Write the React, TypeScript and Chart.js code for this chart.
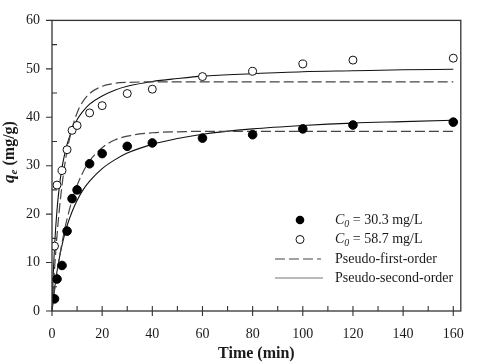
import React, { useEffect, useRef } from "react";
import { Chart, registerables } from "chart.js";

Chart.register(...registerables);

// Observed data (time in min, q in mg/g)
const obsTime = [1, 2, 4, 6, 8, 10, 15, 20, 30, 40, 60, 80, 100, 120, 160];
const qObs303 = [2.5, 6.6, 9.4, 16.5, 23.2, 25.0, 30.4, 32.5, 34.0, 34.7, 35.7, 36.4, 37.6, 38.4, 39.0];
const qObs587 = [13.4, 26.0, 29.0, 33.3, 37.3, 38.3, 40.9, 42.4, 44.9, 45.8, 48.4, 49.5, 51.0, 51.8, 52.2];

// Fitted curves
const fitTime = [0, 0.5, 1, 2, 3, 4, 5, 6, 8, 10, 12, 15, 20, 25, 30, 40, 50, 60, 80, 100, 120, 140, 160];
const pfo303 = [0, 2.2, 4.2, 7.9, 11.2, 14.1, 16.7, 19.0, 22.9, 25.9, 28.3, 31.0, 33.7, 35.3, 36.1, 36.8, 37.0, 37.1, 37.1, 37.1, 37.1, 37.1, 37.1];
const pso303 = [0, 2.4, 4.5, 8.2, 11.1, 13.6, 15.7, 17.6, 20.5, 22.8, 24.7, 26.8, 29.4, 31.2, 32.6, 34.4, 35.6, 36.5, 37.6, 38.3, 38.8, 39.1, 39.4];
const pfo587 = [0, 4.5, 8.6, 15.6, 21.3, 26.0, 29.9, 33.1, 37.7, 40.9, 43.0, 44.9, 46.4, 47.0, 47.2, 47.3, 47.3, 47.3, 47.3, 47.3, 47.3, 47.3, 47.3];
const pso587 = [0, 7.6, 13.2, 20.9, 26.0, 29.6, 32.3, 34.4, 37.4, 39.5, 41.0, 42.7, 44.4, 45.6, 46.4, 47.4, 48.0, 48.5, 49.0, 49.4, 49.6, 49.8, 49.9];

const xTicks = [0, 20, 40, 60, 80, 100, 120, 140, 160];
const yTicks = [0, 10, 20, 30, 40, 50, 60];
const xMinor = [10, 30, 50, 70, 90, 110, 130, 150];
const yMinor = [5, 15, 25, 35, 45, 55];

const SERIF = "'Liberation Serif', 'Times New Roman', serif";
const INK = "#1a1a1a";

const pts = (xs: number[], ys: number[]) => xs.map((x, i) => ({ x, y: ys[i] }));

const framePlugin = {
  id: "frame",
  afterDraw(chart: any) {
    const { ctx, chartArea: a, scales } = chart;
    const xs = scales.x;
    const ys = scales.y;
    ctx.save();
    ctx.strokeStyle = "#333";
    ctx.lineWidth = 1.3;
    ctx.strokeRect(a.left, a.top, a.right - a.left, a.bottom - a.top);
    ctx.lineWidth = 1.1;
    ctx.beginPath();
    xTicks.forEach((v) => {
      const p = xs.getPixelForValue(v);
      ctx.moveTo(p, a.bottom - 5);
      ctx.lineTo(p, a.bottom + 5);
    });
    xMinor.forEach((v) => {
      const p = xs.getPixelForValue(v);
      ctx.moveTo(p, a.bottom - 5);
      ctx.lineTo(p, a.bottom);
    });
    yTicks.forEach((v) => {
      const p = ys.getPixelForValue(v);
      ctx.moveTo(a.left - 6, p);
      ctx.lineTo(a.left, p);
    });
    yMinor.forEach((v) => {
      const p = ys.getPixelForValue(v);
      ctx.moveTo(a.left, p);
      ctx.lineTo(a.left + 5, p);
    });
    ctx.stroke();

    // x axis title
    ctx.fillStyle = INK;
    ctx.textAlign = "center";
    ctx.textBaseline = "middle";
    ctx.font = `bold 16px ${SERIF}`;
    ctx.fillText("Time (min)", (a.left + a.right) / 2, 354);

    // y axis title (rotated)
    ctx.save();
    ctx.translate(14, 152);
    ctx.rotate(-Math.PI / 2);
    ctx.textAlign = "left";
    ctx.textBaseline = "alphabetic";
    const f1 = `italic bold 17px ${SERIF}`;
    const f2 = `italic bold 11px ${SERIF}`;
    const f3 = `bold 16px ${SERIF}`;
    ctx.font = f1;
    const w1 = ctx.measureText("q").width;
    ctx.font = f2;
    const w2 = ctx.measureText("e").width;
    ctx.font = f3;
    const w3 = ctx.measureText(" (mg/g)").width;
    let x = -(w1 + w2 + w3) / 2;
    ctx.font = f1;
    ctx.fillText("q", x, 0);
    x += w1;
    ctx.font = f2;
    ctx.fillText("e", x, 3);
    x += w2;
    ctx.font = f3;
    ctx.fillText(" (mg/g)", x, 0);
    ctx.restore();

    // legend
    const ds = chart.data.datasets;
    const tx = 335;
    const rows = [220, 239.5, 259, 278];
    ctx.textBaseline = "middle";
    ctx.textAlign = "left";
    const drawC0 = (y: number, rest: string) => {
      let xx = tx;
      ctx.font = `italic 14px ${SERIF}`;
      ctx.fillText("C", xx, y);
      xx += ctx.measureText("C").width;
      ctx.font = `italic 10px ${SERIF}`;
      ctx.fillText("0", xx, y + 4);
      xx += ctx.measureText("0").width;
      ctx.font = `14px ${SERIF}`;
      ctx.fillText(rest, xx, y);
    };
    // markers
    ctx.beginPath();
    ctx.fillStyle = ds[0].pointBackgroundColor;
    ctx.arc(300, rows[0], 4.3, 0, Math.PI * 2);
    ctx.fill();
    ctx.beginPath();
    ctx.fillStyle = "#fff";
    ctx.strokeStyle = "#111";
    ctx.lineWidth = 1;
    ctx.arc(300, rows[1], 4, 0, Math.PI * 2);
    ctx.fill();
    ctx.stroke();
    // lines
    ctx.beginPath();
    ctx.strokeStyle = ds[2].borderColor;
    ctx.lineWidth = ds[2].borderWidth;
    ctx.setLineDash(ds[2].borderDash);
    ctx.moveTo(275, rows[2]);
    ctx.lineTo(321, rows[2]);
    ctx.stroke();
    ctx.setLineDash([]);
    ctx.beginPath();
    ctx.strokeStyle = "#777";
    ctx.lineWidth = 1.2;
    ctx.moveTo(275, rows[3]);
    ctx.lineTo(323, rows[3]);
    ctx.stroke();
    ctx.fillStyle = INK;
    drawC0(rows[0], " = 30.3 mg/L");
    drawC0(rows[1], " = 58.7 mg/L");
    ctx.font = `14px ${SERIF}`;
    ctx.fillText("Pseudo-first-order", tx, rows[2]);
    ctx.fillText("Pseudo-second-order", tx, rows[3]);
    ctx.restore();
  },
};

export default function App() {
  const ref = useRef<HTMLCanvasElement | null>(null);
  useEffect(() => {
    if (!ref.current) return;
    const lineBase = {
      pointRadius: 0,
      pointHoverRadius: 0,
      fill: false,
      cubicInterpolationMode: "monotone" as const,
      order: 2,
    };
    const chart = new Chart(ref.current, {
      type: "line",
      data: {
        datasets: [
          {
            label: "C0 = 30.3 mg/L",
            data: pts(obsTime, qObs303),
            showLine: false,
            pointRadius: 4.3,
            pointBackgroundColor: "#000",
            pointBorderColor: "#000",
            pointBorderWidth: 1,
            order: 0,
          },
          {
            label: "C0 = 58.7 mg/L",
            data: pts(obsTime, qObs587),
            showLine: false,
            pointRadius: 4,
            pointBackgroundColor: "#fff",
            pointBorderColor: "#111",
            pointBorderWidth: 1,
            order: 0,
          },
          {
            label: "Pseudo-first-order",
            data: pts(fitTime, pfo303),
            borderColor: "#444",
            borderWidth: 1.2,
            borderDash: [10, 4],
            ...lineBase,
          },
          {
            label: "Pseudo-first-order 58.7",
            data: pts(fitTime, pfo587),
            borderColor: "#444",
            borderWidth: 1.2,
            borderDash: [10, 4],
            ...lineBase,
          },
          {
            label: "Pseudo-second-order",
            data: pts(fitTime, pso303),
            borderColor: "#111",
            borderWidth: 1.1,
            ...lineBase,
          },
          {
            label: "Pseudo-second-order 58.7",
            data: pts(fitTime, pso587),
            borderColor: "#111",
            borderWidth: 1.1,
            ...lineBase,
          },
        ],
      },
      options: {
        responsive: false,
        animation: false,
        devicePixelRatio: 1,
        layout: { padding: { top: 12, right: 12, left: 0, bottom: 0 } },
        plugins: { legend: { display: false }, tooltip: { enabled: false } },
        scales: {
          x: {
            type: "linear",
            min: 0,
            max: 163,
            grid: { display: false, drawTicks: false },
            border: { display: false },
            afterFit: (s: any) => {
              s.height = 53;
            },
            afterBuildTicks: (s: any) => {
              s.ticks = xTicks.map((v) => ({ value: v }));
            },
            ticks: {
              padding: 15,
              color: INK,
              font: { family: SERIF, size: 14 },
              maxRotation: 0,
              autoSkip: false,
            },
          },
          y: {
            type: "linear",
            min: 0,
            max: 60,
            grid: { display: false, drawTicks: false },
            border: { display: false },
            afterFit: (s: any) => {
              s.width = 52;
            },
            afterBuildTicks: (s: any) => {
              s.ticks = yTicks.map((v) => ({ value: v }));
            },
            ticks: {
              padding: 12,
              color: INK,
              font: { family: SERIF, size: 14 },
            },
          },
        },
      },
      plugins: [framePlugin],
    });
    return () => chart.destroy();
  }, []);
  return (
    <div style={{ position: "absolute", left: 0, top: 0, width: 479, height: 364, background: "#fff" }}>
      <canvas ref={ref} width={479} height={364} />
    </div>
  );
}
